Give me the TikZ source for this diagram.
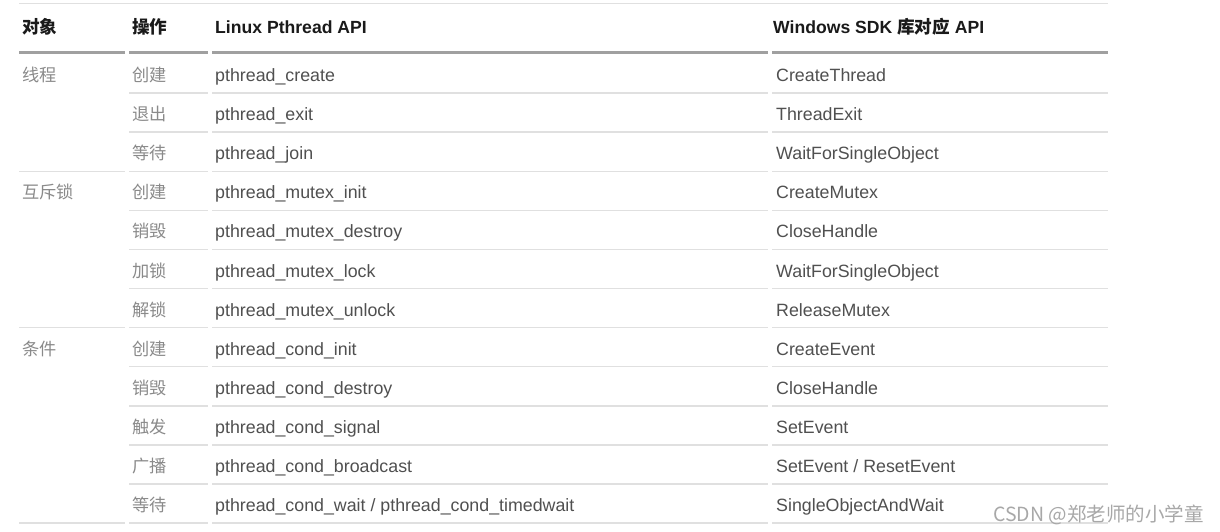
\documentclass[tikz,border=0pt]{standalone}
\usepackage{fontspec}
\setmainfont{Liberation Sans}
\newfontfamily\cjk{Noto Sans CJK SC}
\definecolor{hdrtext}{HTML}{1A1A1A}
\definecolor{bodytext}{HTML}{505050}
\definecolor{cjktext}{HTML}{8A8A8A}
\definecolor{thickline}{HTML}{A0A0A0}
\definecolor{thinline}{HTML}{E0E0E0}
\definecolor{wmark}{HTML}{A8A8A8}
\begin{document}
\begin{tikzpicture}[x=1pt,y=-1pt,
  hdr/.style={anchor=base west,inner sep=0pt,text=hdrtext,font=\fontsize{17.6}{20}\selectfont\bfseries},
  cell/.style={anchor=base west,inner sep=0pt,text=bodytext,font=\fontsize{17.8}{20}\selectfont},
  zh/.style={anchor=base west,inner sep=0pt,text=cjktext,font=\fontsize{17.2}{20}\selectfont\cjk},
  thick rule/.style={draw=thickline,line width=3pt},
  thin rule/.style={draw=thinline,line width=1.4pt},
  top rule/.style={draw=thinline,line width=1.2pt}]
\useasboundingbox[fill=white] (0,0) rectangle (1220,532);
% top rule
\coordinate (t0) at (19,3.5); \coordinate (t1) at (1108,3.5);
\draw[top rule] (t0) -- (t1);
% header
\node[hdr] (h1) at (22,33.5) {\cjk 对象};
\node[hdr] (h2) at (132,33.5) {\cjk 操作};
\node[hdr] (h3) at (215,33.5) {Linux Pthread API};
\node[hdr] (h4) at (773,33.5) {Windows SDK {\cjk 库对应} API};
% header rules
\coordinate (a0) at (19,53); \coordinate (a1) at (125,53);
\coordinate (b0) at (129,53); \coordinate (b1) at (208,53);
\coordinate (c0) at (212,53); \coordinate (c1) at (768,53);
\coordinate (d0) at (772,53); \coordinate (d1) at (1108,53);
\draw[thick rule] (a0) -- (a1);
\draw[thick rule] (b0) -- (b1);
\draw[thick rule] (c0) -- (c1);
\draw[thick rule] (d0) -- (d1);
% row rules for columns 2-4
\foreach \k in {0,...,11}{
  \pgfmathsetmacro{\yy}{93+39.1*\k}
  \draw[thin rule] (129,\yy) -- (208,\yy);
  \draw[thin rule] (212,\yy) -- (768,\yy);
  \draw[thin rule] (772,\yy) -- (1108,\yy);
}
% group rules in column 1
\foreach \k in {2,6,11}{
  \pgfmathsetmacro{\yy}{93+39.1*\k}
  \draw[thin rule] (19,\yy) -- (125,\yy);
}
% group labels
\node[zh] (g1) at (22,81.5) {线程};
\node[zh] (g2) at (22,198.8) {互斥锁};
\node[zh] (g3) at (22,355.2) {条件};
% rows
\foreach \k/\op/\lx/\wx in {
  0/创建/{pthread\_create}/{CreateThread},
  1/退出/{pthread\_exit}/{ThreadExit},
  2/等待/{pthread\_join}/{WaitForSingleObject},
  3/创建/{pthread\_mutex\_init}/{CreateMutex},
  4/销毁/{pthread\_mutex\_destroy}/{CloseHandle},
  5/加锁/{pthread\_mutex\_lock}/{WaitForSingleObject},
  6/解锁/{pthread\_mutex\_unlock}/{ReleaseMutex},
  7/创建/{pthread\_cond\_init}/{CreateEvent},
  8/销毁/{pthread\_cond\_destroy}/{CloseHandle},
  9/触发/{pthread\_cond\_signal}/{SetEvent},
  10/广播/{pthread\_cond\_broadcast}/{SetEvent / ResetEvent},
  11/等待/{pthread\_cond\_wait / pthread\_cond\_timedwait}/{SingleObjectAndWait}}{
  \pgfmathsetmacro{\yy}{81.5+39.1*\k}
  \node[zh] (op\k) at (132,\yy) {\op};
  \node[cell] (lx\k) at (215,\yy) {\lx};
  \node[cell] (wx\k) at (776,\yy) {\wx};
}
% watermark
\node[anchor=base west,inner sep=0pt,text=wmark,font=\fontsize{19.5}{21}\selectfont\cjk] (wm) at (993,521) {CSDN @郑老师的小学童};
\end{tikzpicture}
\end{document}
